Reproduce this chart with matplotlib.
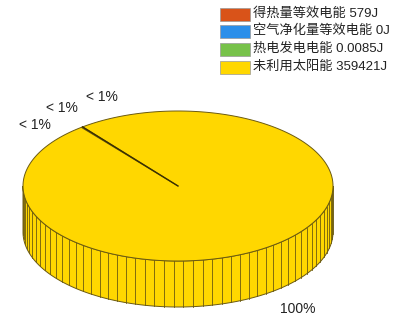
import numpy as np
import matplotlib
matplotlib.use("Agg")
import matplotlib.pyplot as plt
from matplotlib.patches import Polygon, Rectangle

plt.rcParams['font.family'] = ['Liberation Sans', 'Noto Sans CJK SC', 'DejaVu Sans']

# ---- data ----
categories = ['得热量等效电能', '空气净化量等效电能', '热电发电电能', '未利用太阳能']
values = [579, 0, 0.0085, 359421]
value_labels = ['579J', '0J', '0.0085J', '359421J']
colors = ['#D95319', '#2B8FEA', '#77C24A', '#FFD700']

fig = plt.figure(figsize=(4.01, 3.2), dpi=100)
ax = fig.add_axes([0, 0, 1, 1])
ax.set_xlim(0, 401)
ax.set_ylim(320, 0)
ax.axis('off')

# geometry (pixels)
cx, cy = 178, 186
a, b = 155, 75
h = 46
edge = '#6b5a10'
start = 128.0  # parametric degrees of first boundary

def pt(deg, dz=0.0):
    t = np.deg2rad(deg)
    return cx + a * np.cos(t), cy - b * np.sin(t) + dz

total = float(sum(values))
fracs = [v / total for v in values]
ang = start
angles = []
for f in fracs:
    angles.append((ang, ang + 360 * f))
    ang += 360 * f

# side wall (front visible half: 180..360)
yellow_idx = int(np.argmax(values))
side_t = np.linspace(180, 360, 200)
top_pts = [pt(t) for t in side_t]
bot_pts = [pt(t, h) for t in side_t[::-1]]
ax.add_patch(Polygon(top_pts + bot_pts, closed=True, facecolor=colors[yellow_idx],
                     edgecolor=edge, linewidth=0.7, zorder=1))
# facet lines
k = np.arange(0, 100)
fac = (start + 3.6 * k) % 360
for t in fac:
    if 180 < t < 360:
        x0, y0 = pt(t)
        x1, y1 = pt(t, h)
        ax.plot([x0, x1], [y0, y1], color=edge, linewidth=0.6, zorder=2)

# top face wedges
for (t0, t1), c in zip(angles, colors):
    if t1 - t0 <= 0:
        continue
    ts = np.linspace(t0, t1, max(2, int((t1 - t0) / 1.0) + 2))
    poly = [(cx, cy)] + [pt(t) for t in ts]
    ax.add_patch(Polygon(poly, closed=True, facecolor=c, edgecolor=edge,
                         linewidth=0.7, zorder=3))
# boundary line
x0, y0 = pt(start)
ax.plot([cx, x0], [cy, y0], color='#3a3000', linewidth=1.0, zorder=4)

# percentage labels
pct_labels = []
for v in values:
    p = v / total * 100
    pct_labels.append('< 1%' if p < 1 else f'{p:.0f}%')
label_pos = [(35, 125), (62, 108), (102, 97), (298, 309)]
for s, (x, y) in zip(pct_labels, label_pos):
    ax.text(x, y, s, fontsize=10, ha='center', va='center', color='#222222', zorder=5)

# legend
ly = [14, 31, 49, 67]
for c, cat, vl, y in zip(colors, categories, value_labels, ly):
    ax.add_patch(Rectangle((220, y - 6.5), 30, 13, facecolor=c, edgecolor='#999999',
                           linewidth=0.5, zorder=5))
    ax.text(253, y, f'{cat} {vl}', fontsize=9.5, ha='left', va='center',
            color='#222222', zorder=5)

fig.savefig('out.png', dpi=100)
